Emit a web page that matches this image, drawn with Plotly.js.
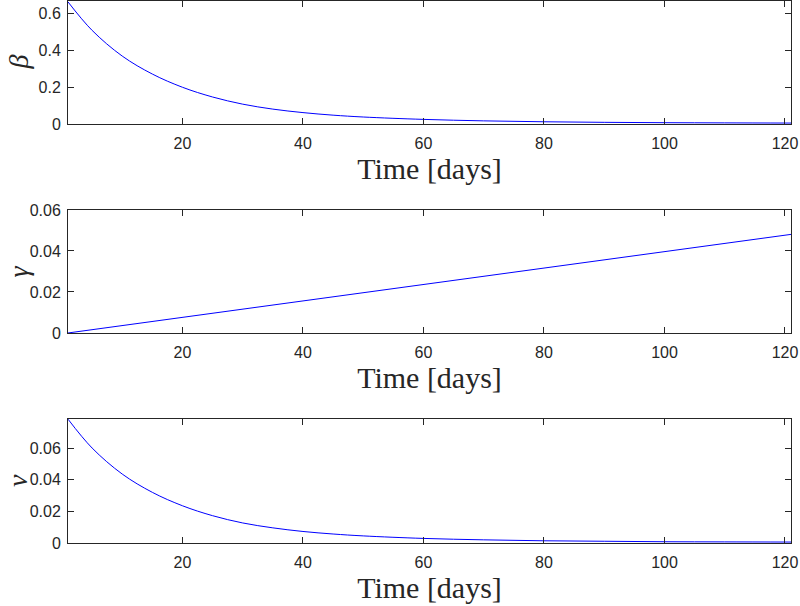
<!DOCTYPE html>
<html>
<head>
<meta charset="utf-8">
<script src="https://cdn.plot.ly/plotly-3.0.1.min.js"></script>
<style>
  html, body { margin: 0; padding: 0; background: #fff; }
  #chart { width: 800px; height: 606px; }
</style>
</head>
<body>
<div id="chart"></div>
<script>
// values
var days = [1, 5, 10, 15, 20, 25, 30, 35, 40, 45, 50, 60, 70, 80, 90, 100, 110, 121];
var beta = [0.665, 0.51, 0.37, 0.272, 0.200, 0.147, 0.108, 0.081, 0.062, 0.048, 0.038, 0.025, 0.017, 0.012, 0.009, 0.007, 0.006, 0.005];
var nuVals = [0.0785, 0.0602, 0.0437, 0.0321, 0.0236, 0.0173, 0.0127, 0.0096, 0.0073, 0.0057, 0.0045, 0.0029, 0.0020, 0.0014, 0.0011, 0.0008, 0.0007, 0.0006];

var gammaDays = [1, 21, 41, 61, 81, 101, 121];
var gammaVals = [0, 0.008, 0.016, 0.024, 0.032, 0.040, 0.0481];

var xTicks = [20, 40, 60, 80, 100, 120];

var blue = '#0000ff';
var ink = '#262626';

var traces = [
  {x: days, y: beta, xaxis: 'x', yaxis: 'y', mode: 'lines',
   line: {color: blue, width: 1, shape: 'spline', smoothing: 1}},
  {x: gammaDays, y: gammaVals, xaxis: 'x2', yaxis: 'y2', mode: 'lines',
   line: {color: blue, width: 1}},
  {x: days, y: nuVals, xaxis: 'x3', yaxis: 'y3', mode: 'lines',
   line: {color: blue, width: 1, shape: 'spline', smoothing: 1}}
];

var tickFont = {family: 'Liberation Sans, Arial', size: 16, color: ink};
var serif = {family: 'Liberation Serif, serif', size: 30, color: ink};

function xax(anchor) {
  return {
    anchor: anchor, domain: [0, 1], range: [1, 121],
    tickvals: xTicks, ticks: 'inside', ticklen: 6, tickcolor: ink,
    ticklabelstandoff: 5,
    showline: true, linecolor: ink, linewidth: 1, mirror: 'ticks',
    showgrid: false, zeroline: false, tickfont: tickFont,
    title: {text: 'Time [days]', standoff: 1, font: serif}
  };
}
function yax(anchor, domain, range, dtick) {
  return {
    anchor: anchor, domain: domain, range: range, dtick: dtick, tick0: 0,
    ticks: 'inside', ticklen: 6, tickcolor: ink, ticklabelstandoff: 3,
    showline: true, linecolor: ink, linewidth: 1, mirror: 'ticks',
    showgrid: false, zeroline: false, tickfont: tickFont
  };
}

// rotated greek labels, as MATLAB draws ylabel
var yLabels = [
  {text: '<i>β</i>', yref: 'y domain'},
  {text: '<i>γ</i>', yref: 'y2 domain'},
  {text: '<i>ν</i>', yref: 'y3 domain'}
];

var layout = {
  width: 800, height: 606,
  margin: {l: 68, r: 9, t: 1, b: 63},
  showlegend: false,
  paper_bgcolor: '#fff', plot_bgcolor: '#fff',
  xaxis: xax('y'),
  yaxis: yax('x', [0.7731, 1], [0, 0.67], 0.2),
  xaxis2: xax('y2'),
  yaxis2: yax('x2', [0.3875, 0.6144], [0, 0.06], 0.02),
  xaxis3: xax('y3'),
  yaxis3: yax('x3', [0, 0.2288], [0, 0.0786], 0.02),
  annotations: yLabels.map(function (l) {
    return {text: l.text, xref: 'paper', yref: l.yref, x: -0.069, y: 0.5,
            xanchor: 'center', yanchor: 'middle', textangle: -90,
            showarrow: false, font: {family: serif.family, size: 28, color: ink}};
  })
};

Plotly.newPlot('chart', traces, layout, {displayModeBar: false, staticPlot: true});
</script>
</body>
</html>
